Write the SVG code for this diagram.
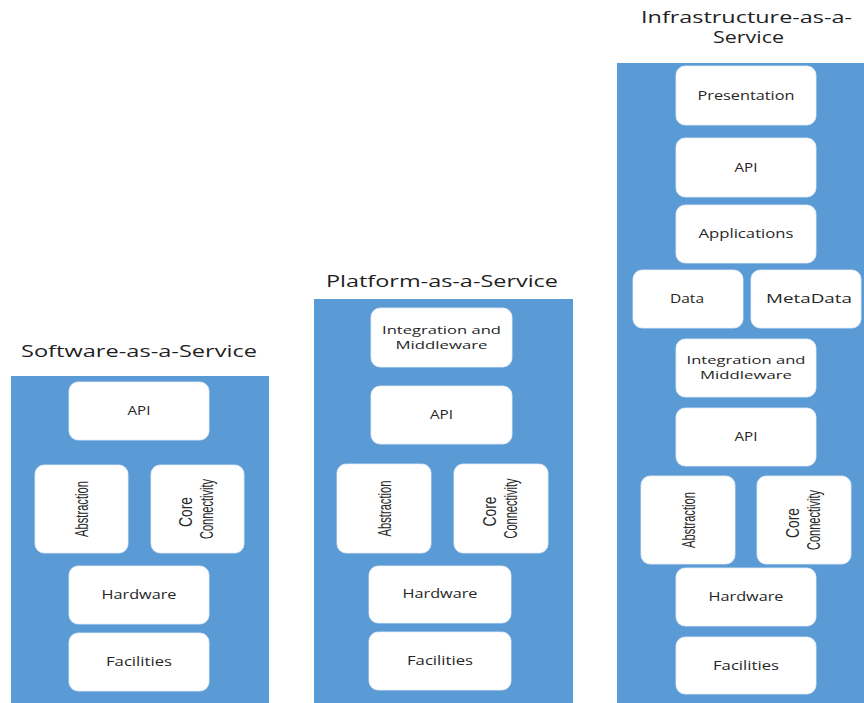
<svg xmlns="http://www.w3.org/2000/svg" width="864" height="703" viewBox="0 0 864 703">
<style>
.panel{fill:#5b9bd5}
.box{fill:#ffffff;stroke:#e6eef7;stroke-width:0.8}
.t{font-family:"Open Sans","Liberation Sans",sans-serif;font-size:12px;fill:#262626;text-anchor:middle}
.t2{font-family:"Open Sans","Liberation Sans",sans-serif;font-size:11.5px;fill:#262626;text-anchor:middle}
.r{font-family:"Liberation Sans","Open Sans",sans-serif;font-size:18px;fill:#262626;text-anchor:middle}
.title{font-family:"Open Sans","Liberation Sans",sans-serif;font-size:15.5px;fill:#1f1f1f;text-anchor:middle}
</style>
<rect width="864" height="703" fill="#ffffff"/>

<g id="saas">
<text class="title" x="139" y="357" textLength="236" lengthAdjust="spacingAndGlyphs">Software-as-a-Service</text>
<rect class="panel" x="11" y="376" width="258" height="327"/>
<g id="saas-api"><rect class="box" x="69" y="382" width="140" height="58" rx="9"/><text class="t" x="139" y="415" textLength="23" lengthAdjust="spacingAndGlyphs">API</text></g>
<g id="saas-abstraction"><rect class="box" x="35" y="465" width="93" height="88" rx="9"/><text class="r" transform="translate(81.5,509) rotate(-90)" x="0" y="6.5" textLength="56" lengthAdjust="spacingAndGlyphs">Abstraction</text></g>
<g id="saas-core"><rect class="box" x="151" y="465" width="93" height="88" rx="9"/><text class="r" transform="translate(197.5,509) rotate(-90)"><tspan x="-3" y="-5.5" textLength="30" lengthAdjust="spacingAndGlyphs">Core</tspan><tspan x="0" y="15.5" textLength="60" lengthAdjust="spacingAndGlyphs">Connectivity</tspan></text></g>
<g id="saas-hardware"><rect class="box" x="69" y="566" width="140" height="58" rx="9"/><text class="t" x="139" y="599" textLength="75" lengthAdjust="spacingAndGlyphs">Hardware</text></g>
<g id="saas-facilities"><rect class="box" x="69" y="633" width="140" height="58" rx="9"/><text class="t" x="139" y="666" textLength="66" lengthAdjust="spacingAndGlyphs">Facilities</text></g>
</g>

<g id="paas">
<text class="title" x="442" y="287" textLength="232" lengthAdjust="spacingAndGlyphs">Platform-as-a-Service</text>
<rect class="panel" x="314" y="299" width="259" height="404"/>
<g id="paas-integration"><rect class="box" x="371" y="308" width="141" height="59" rx="9"/><text class="t2"><tspan x="441.5" y="333.5" textLength="119" lengthAdjust="spacingAndGlyphs">Integration and</tspan><tspan x="441.5" y="348.5" textLength="92" lengthAdjust="spacingAndGlyphs">Middleware</tspan></text></g>
<g id="paas-api"><rect class="box" x="371" y="386" width="141" height="58" rx="9"/><text class="t" x="441.5" y="419" textLength="23" lengthAdjust="spacingAndGlyphs">API</text></g>
<g id="paas-abstraction"><rect class="box" x="337" y="464" width="94" height="89" rx="9"/><text class="r" transform="translate(384,508.5) rotate(-90)" x="0" y="6.5" textLength="56" lengthAdjust="spacingAndGlyphs">Abstraction</text></g>
<g id="paas-core"><rect class="box" x="454" y="464" width="94" height="89" rx="9"/><text class="r" transform="translate(501,508.5) rotate(-90)"><tspan x="-3" y="-5.5" textLength="30" lengthAdjust="spacingAndGlyphs">Core</tspan><tspan x="0" y="15.5" textLength="60" lengthAdjust="spacingAndGlyphs">Connectivity</tspan></text></g>
<g id="paas-hardware"><rect class="box" x="369" y="566" width="142" height="57" rx="9"/><text class="t" x="440" y="598" textLength="75" lengthAdjust="spacingAndGlyphs">Hardware</text></g>
<g id="paas-facilities"><rect class="box" x="369" y="632" width="142" height="58" rx="9"/><text class="t" x="440" y="665" textLength="66" lengthAdjust="spacingAndGlyphs">Facilities</text></g>
</g>

<g id="iaas">
<text class="title"><tspan x="746.5" y="23" textLength="211" lengthAdjust="spacingAndGlyphs">Infrastructure-as-a-</tspan><tspan x="748.5" y="43" textLength="71" lengthAdjust="spacingAndGlyphs">Service</tspan></text>
<rect class="panel" x="617" y="63" width="247" height="640"/>
<g id="iaas-presentation"><rect class="box" x="676" y="66" width="140" height="59" rx="9"/><text class="t" x="746" y="99.5" textLength="97" lengthAdjust="spacingAndGlyphs">Presentation</text></g>
<g id="iaas-api-top"><rect class="box" x="676" y="138" width="140" height="59" rx="9"/><text class="t" x="746" y="171.5" textLength="23" lengthAdjust="spacingAndGlyphs">API</text></g>
<g id="iaas-applications"><rect class="box" x="676" y="205" width="140" height="58" rx="9"/><text class="t" x="746" y="238" textLength="95" lengthAdjust="spacingAndGlyphs">Applications</text></g>
<g id="iaas-data"><rect class="box" x="633" y="270" width="110" height="58" rx="9"/><text class="t" x="687" y="303" textLength="34" lengthAdjust="spacingAndGlyphs">Data</text></g>
<g id="iaas-metadata"><rect class="box" x="751" y="270" width="110" height="58" rx="9"/><text class="t" x="809" y="303" textLength="86" lengthAdjust="spacingAndGlyphs">MetaData</text></g>
<g id="iaas-integration"><rect class="box" x="676" y="339" width="140" height="58" rx="9"/><text class="t2"><tspan x="746" y="363.5" textLength="119" lengthAdjust="spacingAndGlyphs">Integration and</tspan><tspan x="746" y="378.5" textLength="92" lengthAdjust="spacingAndGlyphs">Middleware</tspan></text></g>
<g id="iaas-api"><rect class="box" x="676" y="408" width="140" height="58" rx="9"/><text class="t" x="746" y="441" textLength="23" lengthAdjust="spacingAndGlyphs">API</text></g>
<g id="iaas-abstraction"><rect class="box" x="641" y="476" width="94" height="88" rx="9"/><text class="r" transform="translate(688,520) rotate(-90)" x="0" y="6.5" textLength="56" lengthAdjust="spacingAndGlyphs">Abstraction</text></g>
<g id="iaas-core"><rect class="box" x="757" y="476" width="94" height="88" rx="9"/><text class="r" transform="translate(804,520) rotate(-90)"><tspan x="-3" y="-5.5" textLength="30" lengthAdjust="spacingAndGlyphs">Core</tspan><tspan x="0" y="15.5" textLength="60" lengthAdjust="spacingAndGlyphs">Connectivity</tspan></text></g>
<g id="iaas-hardware"><rect class="box" x="676" y="568" width="140" height="58" rx="9"/><text class="t" x="746" y="601" textLength="75" lengthAdjust="spacingAndGlyphs">Hardware</text></g>
<g id="iaas-facilities"><rect class="box" x="676" y="637" width="140" height="57" rx="9"/><text class="t" x="746" y="670" textLength="66" lengthAdjust="spacingAndGlyphs">Facilities</text></g>
</g>
</svg>
